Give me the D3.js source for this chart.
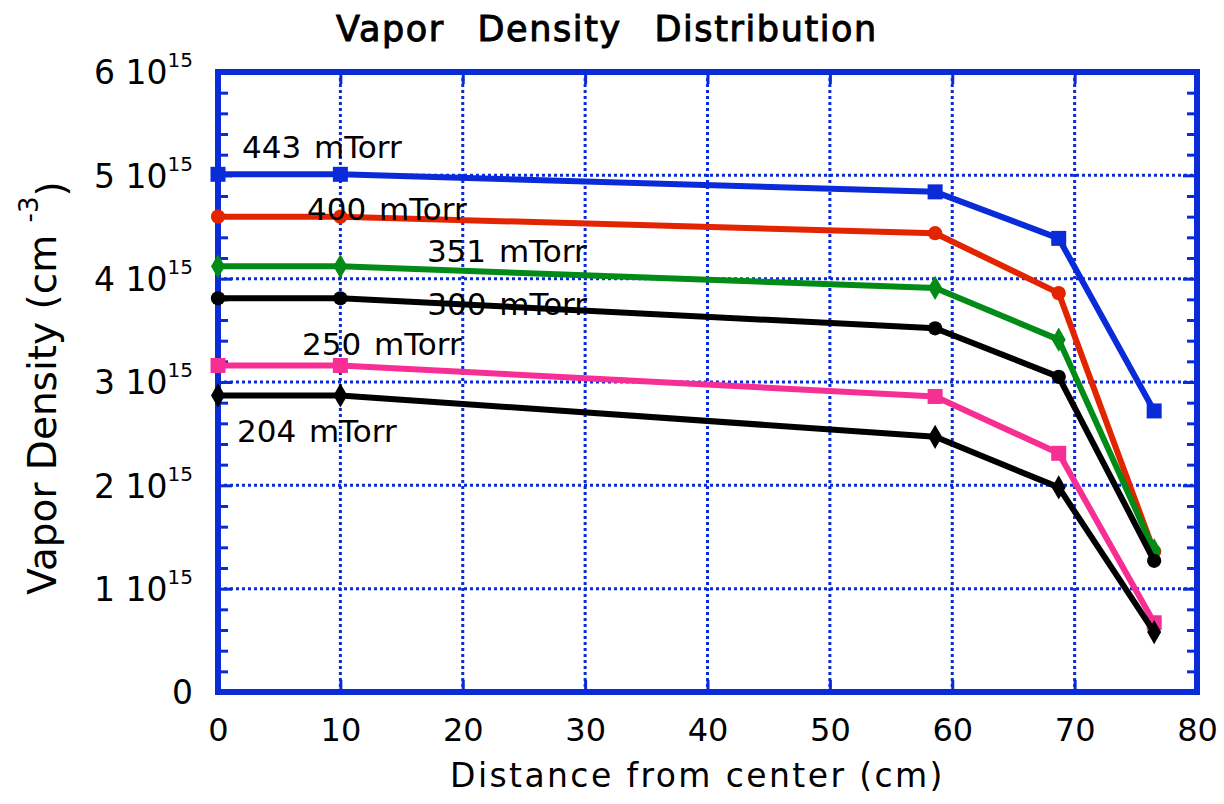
<!DOCTYPE html>
<html>
<head>
<meta charset="utf-8">
<script src="https://cdn.jsdelivr.net/npm/d3@7"></script>
<style>
  body { margin: 0; background: #fff; }
  svg { display: block; font-family: "DejaVu Sans", "Open Sans", sans-serif; }
</style>
</head>
<body>
<svg id="chart" width="1224" height="804"></svg>
<script>
// ── data (density in units of 1e15 cm^-3) ──────────────────────────
const distances = [0, 10, 58.6, 68.7, 76.5];
const pressures = ["443 mTorr", "400 mTorr", "351 mTorr", "300 mTorr", "250 mTorr", "204 mTorr"];
const d443 = [5.01, 5.01, 4.84, 4.39, 2.72];
const d400 = [4.60, 4.60, 4.44, 3.86, 1.36];
const d351 = [4.12, 4.12, 3.91, 3.41, 1.37];
const d300 = [3.81, 3.81, 3.52, 3.05, 1.27];
const d250 = [3.16, 3.16, 2.86, 2.31, 0.67];
const d204 = [2.87, 2.87, 2.47, 1.98, 0.58];
const xTicks = [0, 10, 20, 30, 40, 50, 60, 70, 80];
const yTicks = [0, 1, 2, 3, 4, 5, 6];

const series = [
  { name: pressures[0], values: d443, color: "#0a2bd8", marker: "square", label: [1.96, 5.17] },
  { name: pressures[1], values: d400, color: "#e32400", marker: "circle", label: [7.27, 4.57] },
  { name: pressures[2], values: d351, color: "#038b17", marker: "diamond", label: [17.07, 4.16] },
  { name: pressures[3], values: d300, color: "#000000", marker: "circle", label: [17.1, 3.65] },
  { name: pressures[4], values: d250, color: "#f72f95", marker: "square", label: [6.86, 3.26] },
  { name: pressures[5], values: d204, color: "#000000", marker: "diamond", label: [1.55, 2.42] },
];

const BLUE = "#0a2bd8";
const M = { left: 218, right: 1197, top: 72, bottom: 692 };

const svg = d3.select("#chart");
const x = d3.scaleLinear().domain([0, 80]).range([M.left, M.right]);
const y = d3.scaleLinear().domain([0, 6]).range([M.bottom, M.top]);

// ── grid ──────────────────────────────────────────────────────────
const grid = svg.append("g");
grid.selectAll(".gx").data(xTicks.slice(1, -1)).enter().append("line")
  .attr("x1", d => x(d)).attr("x2", d => x(d))
  .attr("y1", M.top).attr("y2", M.bottom)
  .attr("stroke", BLUE).attr("stroke-width", 3).attr("stroke-dasharray", "3,3");
grid.selectAll(".gy").data(yTicks.slice(1, -1)).enter().append("line")
  .attr("x1", M.left).attr("x2", M.right)
  .attr("y1", d => y(d)).attr("y2", d => y(d))
  .attr("stroke", BLUE).attr("stroke-width", 3).attr("stroke-dasharray", "3,3");

// ── axes (ticks inward) ───────────────────────────────────────────
const yMinor = d3.range(0, 6.01, 0.2).filter(v => Math.abs(v - Math.round(v)) > 0.01);

function styleAxis(g) {
  g.select(".domain").remove();
  g.selectAll(".tick line").attr("stroke", BLUE).attr("stroke-width", 3);
}

svg.append("g").attr("transform", `translate(${M.left},0)`)
  .call(d3.axisLeft(y).tickValues(yMinor).tickSize(-10).tickFormat(""))
  .call(styleAxis);
svg.append("g").attr("transform", `translate(${M.right},0)`)
  .call(d3.axisRight(y).tickValues(yMinor).tickSize(-10).tickFormat(""))
  .call(styleAxis);
svg.append("g").attr("transform", `translate(${M.left},0)`)
  .call(d3.axisLeft(y).tickValues(yTicks).tickSize(-14).tickFormat(""))
  .call(styleAxis);
svg.append("g").attr("transform", `translate(${M.right},0)`)
  .call(d3.axisRight(y).tickValues(yTicks).tickSize(-14).tickFormat(""))
  .call(styleAxis);
svg.append("g").attr("transform", `translate(0,${M.top})`)
  .call(d3.axisTop(x).tickValues(xTicks).tickSize(-12).tickFormat(""))
  .call(styleAxis);

const xAxis = svg.append("g").attr("transform", `translate(0,${M.bottom})`)
  .call(d3.axisBottom(x).tickValues(xTicks).tickSize(-12).tickPadding(26))
  .call(styleAxis);
xAxis.selectAll("text").attr("font-size", 32).attr("fill", "#000")
  .attr("font-family", "'DejaVu Sans', sans-serif");

// y labels with superscript exponent
const yAxis = svg.append("g").attr("transform", `translate(${M.left},0)`)
  .call(d3.axisLeft(y).tickValues(yTicks).tickSize(0).tickPadding(25).tickFormat(""))
  .call(styleAxis);
yAxis.selectAll(".tick text").each(function (d) {
  const t = d3.select(this).attr("font-size", 33).attr("fill", "#000").attr("dy", "0.36em")
    .attr("font-family", "'DejaVu Sans', sans-serif");
  if (d === 0) { t.text("0"); return; }
  t.append("tspan").text(`${d} 10`);
  t.append("tspan").attr("font-size", 20).attr("dy", "-0.85em").text("15");
});

// ── frame ─────────────────────────────────────────────────────────
svg.append("rect")
  .attr("x", M.left).attr("y", M.top)
  .attr("width", M.right - M.left).attr("height", M.bottom - M.top)
  .attr("fill", "none").attr("stroke", BLUE).attr("stroke-width", 6);

// ── series ────────────────────────────────────────────────────────
const line = d3.line().x(d => x(d[0])).y(d => y(d[1]));
const symbols = { square: d3.symbolSquare, circle: d3.symbolCircle, diamond: d3.symbolDiamond };
const symSize = { square: 225, circle: 160, diamond: 170 };

series.forEach(s => {
  const pts = distances.map((dx, i) => [dx, s.values[i]]);
  const g = svg.append("g");
  g.append("path").datum(pts).attr("d", line)
    .attr("fill", "none").attr("stroke", s.color).attr("stroke-width", 6)
    .attr("stroke-linejoin", "round");
  g.selectAll("path.m").data(pts).enter().append("path").attr("class", "m")
    .attr("transform", d => `translate(${x(d[0])},${y(d[1])})`)
    .attr("d", d3.symbol(symbols[s.marker], symSize[s.marker]))
    .attr("fill", s.color);
});

// series labels
svg.append("g").selectAll("text").data(series).enter().append("text")
  .attr("x", d => x(d.label[0])).attr("y", d => y(d.label[1]))
  .attr("font-size", 31).attr("fill", "#000")
  .attr("word-spacing", 3)
  .text(d => d.name);

// ── titles ────────────────────────────────────────────────────────
svg.append("text").attr("x", 607).attr("y", 41).attr("text-anchor", "middle")
  .attr("font-size", 35).attr("word-spacing", 20)
  .attr("letter-spacing", 1.6).attr("stroke", "#000").attr("stroke-width", 1)
  .text("Vapor Density Distribution");

svg.append("text").attr("x", (M.left + M.right) / 2 - 10).attr("y", 787)
  .attr("text-anchor", "middle").attr("font-size", 33).attr("letter-spacing", 2.4)
  .text("Distance from center (cm)");

const yl = svg.append("text")
  .attr("transform", `translate(56,388) rotate(-90)`)
  .attr("text-anchor", "middle").attr("font-size", 39);
yl.append("tspan").text("Vapor Density (cm ");
yl.append("tspan").attr("font-size", 26).attr("dy", "-0.7em").text("-3");
yl.append("tspan").attr("dy", "0.7em").text(")");
</script>
</body>
</html>
